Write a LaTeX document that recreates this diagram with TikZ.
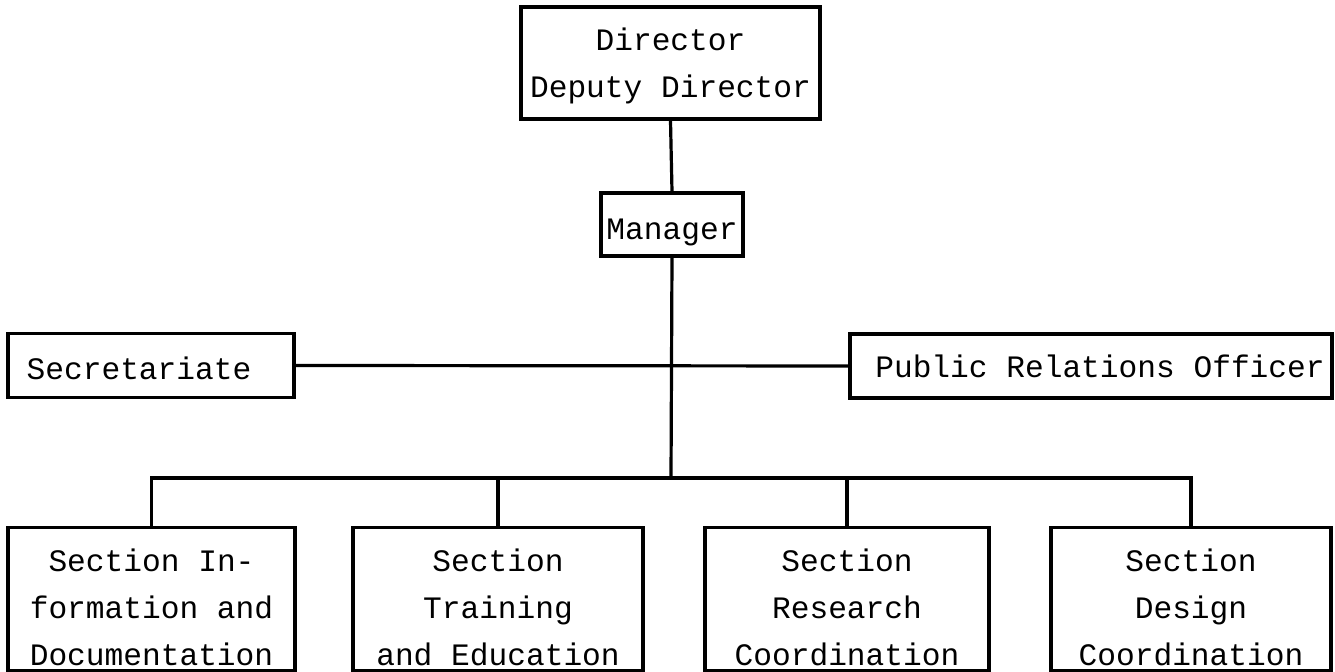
\documentclass[tikz,border=0pt]{standalone}
\usepackage{fontspec}
\setmainfont{Liberation Mono}
\usepackage{tikz}
\usetikzlibrary{positioning}

\begin{document}
\begin{tikzpicture}[
      x=0.5pt, y=-0.5pt,
      unit/.style={
          rectangle,
          draw,
          line width=1.6pt,
          inner sep=2pt,
          align=center,
          font=\fontsize{15.6}{23.5}\selectfont
        },
      lower/.style={execute at begin node={\rule{0pt}{#1}}},
      link/.style={line width=1.6pt}
    ]
    \useasboundingbox (0,0) rectangle (1335,672);

    % Explicit positions
    \node[unit, lower=38pt, minimum width=149.5pt, minimum height=56pt] at (670.5,63) (dir) {Director\\Deputy Director};
    \node[unit, lower=18.5pt, minimum width=71pt, minimum height=31.5pt] at (672,224.5) (mgr) {Manager};
    \node[unit, lower=14pt, minimum width=143pt, minimum height=32pt] at (151,365.5) (sec) {Secretariate\hspace{12pt}};
    \node[unit, minimum width=241pt, minimum height=32pt] at (1091,366) (pro) {\hspace{9pt}Public Relations Officer};

    \node[unit, lower=67pt, minimum width=143.5pt, minimum height=71pt] at (151.5,599) (info) {Section In-\hspace{8pt}\\formation and\\Documentation};
    \node[unit, lower=67pt, minimum width=145pt, minimum height=71pt] at (498,599) (train) {Section\\Training\\and Education};
    \node[unit, lower=67pt, minimum width=142pt, minimum height=71pt] at (847,599) (research) {Section\\Research\\Coordination};
    \node[unit, lower=67pt, minimum width=140pt, minimum height=71pt] at (1191,599) (design) {Section\\Design\\Coordination};

    \coordinate (bus) at (671,478);

    % Lines between the units
    \draw[link] (dir.south) -- (mgr.north);
    \draw[link] (mgr.south) -- (bus);
    \draw[link] (sec.east) -- (pro.west);
    \draw[link] (info.north) |- (bus);
    \draw[link] (train.north) |- (bus);
    \draw[link] (research.north) |- (bus);
    \draw[link] (design.north) |- (bus);
  \end{tikzpicture}
\end{document}
